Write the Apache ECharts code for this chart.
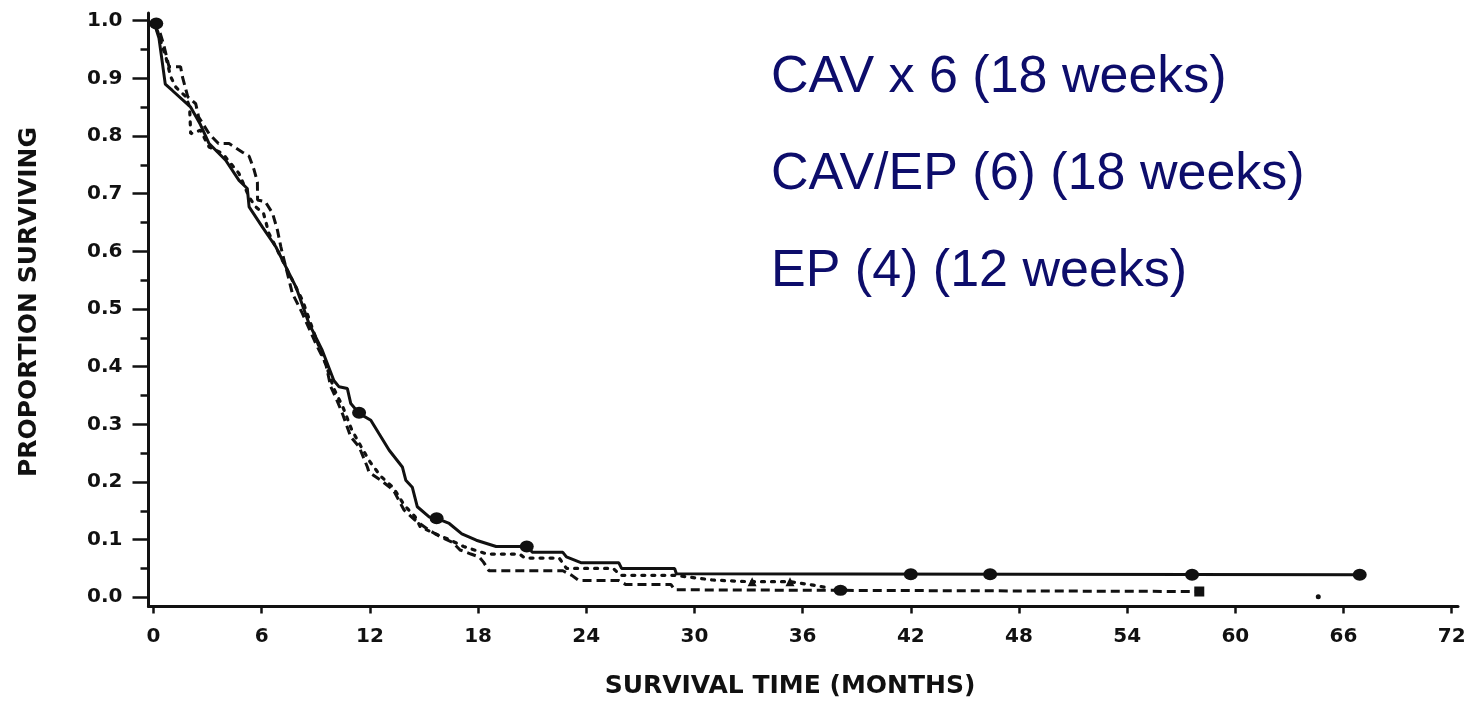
<!DOCTYPE html>
<html>
<head>
<meta charset="utf-8">
<script src="https://cdn.jsdelivr.net/npm/echarts@6/dist/echarts.min.js"></script>
<style>
  html, body { margin: 0; padding: 0; background: #ffffff; }
  #chart { width: 1476px; height: 712px; }
</style>
</head>
<body>
<div id="chart"></div>
<script>
// ---- Data ----
const seriesNames = ['CAV x 6 (18 weeks)', 'CAV/EP (6) (18 weeks)', 'EP (4) (12 weeks)'];

// Solid curve
const timeCAV = [0, 0.3, 0.65, 1.04, 2.06, 2.6, 3.08, 4.0, 4.74, 5.2, 5.3, 6.04, 6.78, 7.34, 7.9, 8.62, 9.36, 10.0, 10.29, 10.75, 10.94, 11.4, 12.05, 12.5, 13.07, 13.8, 13.99, 14.35, 14.63, 15.3, 15.7, 16.4, 17.1, 17.9, 19.0, 20.8, 21.0, 22.7, 22.9, 23.7, 25.8, 25.96, 28.9, 29.0, 66.9];
const survCAV = [1.0, 0.97, 0.89, 0.879, 0.85, 0.82, 0.787, 0.758, 0.723, 0.709, 0.677, 0.642, 0.608, 0.573, 0.538, 0.475, 0.428, 0.376, 0.365, 0.362, 0.336, 0.319, 0.307, 0.284, 0.255, 0.226, 0.203, 0.191, 0.157, 0.139, 0.137, 0.128, 0.110, 0.099, 0.088, 0.088, 0.078, 0.078, 0.070, 0.060, 0.060, 0.050, 0.050, 0.041, 0.039];

// Dotted curve
const timeCAVEP = [0, 0.3, 0.55, 0.7, 0.95, 1.23, 1.8, 2.0, 2.06, 2.6, 3.08, 3.82, 4.74, 5.3, 5.67, 6.1, 6.4, 6.87, 7.52, 8.26, 9.0, 9.6, 10.0, 10.5, 11.0, 11.5, 12.0, 12.6, 13.3, 13.9, 14.5, 14.8, 15.5, 16.4, 17.2, 18.0, 18.5, 20.3, 20.6, 22.5, 22.9, 25.5, 25.9, 28.9, 31.0, 33.0, 35.3, 36.6, 37.5];
const survCAVEP = [1.0, 0.975, 0.95, 0.935, 0.903, 0.885, 0.868, 0.85, 0.804, 0.81, 0.781, 0.770, 0.735, 0.694, 0.677, 0.666, 0.631, 0.602, 0.561, 0.515, 0.45, 0.40, 0.362, 0.33, 0.29, 0.262, 0.235, 0.21, 0.19, 0.16, 0.14, 0.122, 0.112, 0.100, 0.088, 0.080, 0.075, 0.075, 0.068, 0.068, 0.050, 0.050, 0.038, 0.038, 0.030, 0.027, 0.027, 0.021, 0.016];

// Dashed curve
const timeEP = [0, 0.3, 0.55, 0.86, 1.5, 1.6, 1.9, 2.34, 2.5, 3.08, 3.6, 4.19, 4.93, 5.3, 5.58, 5.76, 5.77, 6.2, 6.6, 6.87, 7.06, 7.15, 7.7, 8.26, 9.0, 9.55, 9.83, 10.1, 10.47, 10.94, 11.4, 11.86, 11.95, 12.6, 13.3, 13.9, 14.5, 15.3, 15.9, 16.6, 17.0, 17.6, 18.06, 18.3, 18.6, 22.7, 23.2, 23.6, 25.8, 26.2, 28.7, 28.9, 38.1, 58.0];
const survEP = [1.0, 0.985, 0.96, 0.92, 0.92, 0.903, 0.868, 0.856, 0.833, 0.804, 0.787, 0.787, 0.772, 0.765, 0.741, 0.72, 0.689, 0.686, 0.666, 0.637, 0.608, 0.596, 0.527, 0.492, 0.44, 0.405, 0.365, 0.347, 0.319, 0.278, 0.261, 0.226, 0.217, 0.203, 0.186, 0.151, 0.134, 0.116, 0.105, 0.095, 0.082, 0.075, 0.070, 0.061, 0.046, 0.046, 0.038, 0.029, 0.029, 0.022, 0.022, 0.013, 0.012, 0.010];

// Censoring marks
const censorCAVT = [0.15, 11.4, 15.7, 20.7, 42.0, 46.4, 57.6, 66.9];
const censorCAVS = [0.995, 0.320, 0.137, 0.088, 0.040, 0.040, 0.039, 0.039];
const censorCAVEPT = [33.2, 35.3, 64.6];
const censorCAVEPS = [0.027, 0.027, 0.001];
const censorEPT = [38.1, 58.0];
const censorEPS = [0.012, 0.010];

// Axis ticks
const xTicks = [0, 6, 12, 18, 24, 30, 36, 42, 48, 54, 60, 66, 72];
const yTicks = [0, 0.1, 0.2, 0.3, 0.4, 0.5, 0.6, 0.7, 0.8, 0.9, 1.0];
const yMinorTicks = [0.05, 0.15, 0.25, 0.35, 0.45, 0.55, 0.65, 0.75, 0.85, 0.95];

const xTitle = 'SURVIVAL TIME (MONTHS)';
const yTitle = 'PROPORTION SURVIVING';

// ---- Build ----
const pairs = (t, s) => t.map((v, i) => [v, s[i]]);
const INK = '#111111';
const NAVY = '#0d0d6b';

const chart = echarts.init(document.getElementById('chart'), null, { renderer: 'canvas' });

const yRange = { min: -0.016, max: 1.0134 };

const option = {
  backgroundColor: '#ffffff',
  animation: false,
  grid: { left: 148.5, right: 18, top: 13, bottom: 105.5, containLabel: false },
  xAxis: {
    type: 'value', min: -0.28, max: 72.35,
    axisLine: { show: true, onZero: false, lineStyle: { color: INK, width: 3 } },
    axisTick: { show: true, customValues: xTicks, length: 7, lineStyle: { color: INK, width: 2.5 } },
    axisLabel: { customValues: xTicks, margin: 20, color: INK, fontFamily: 'DejaVu Sans', fontWeight: 'bold', fontSize: 20 },
    splitLine: { show: false }
  },
  yAxis: [
    {
      type: 'value', min: yRange.min, max: yRange.max,
      axisLine: { show: true, onZero: false, lineStyle: { color: INK, width: 3 } },
      axisTick: { show: true, customValues: yTicks, length: 16, lineStyle: { color: INK, width: 2.5 } },
      axisLabel: { customValues: yTicks, margin: 26, color: INK, fontFamily: 'DejaVu Sans', fontWeight: 'bold', fontSize: 20,
        formatter: v => Number(v).toFixed(1) },
      splitLine: { show: false }
    },
    {
      type: 'value', min: yRange.min, max: yRange.max, position: 'left', offset: 0,
      axisLine: { show: false, onZero: false },
      axisTick: { show: true, customValues: yMinorTicks, length: 8, lineStyle: { color: INK, width: 2.5 } },
      axisLabel: { show: false },
      splitLine: { show: false }
    }
  ],
  legend: {
    data: seriesNames,
    orient: 'vertical',
    left: 761, top: 43,
    icon: 'none', itemWidth: 0, itemHeight: 10, itemGap: 37,
    selectedMode: false,
    textStyle: { color: NAVY, fontFamily: 'Liberation Sans', fontSize: 52, lineHeight: 60 }
  },
  graphic: [
    { type: 'text', x: 790, y: 686, silent: true,
      style: { text: xTitle, fill: INK, fontFamily: 'DejaVu Sans', fontWeight: 'bold', fontSize: 25, align: 'center', verticalAlign: 'middle' } },
    { type: 'text', x: 29, y: 302, rotation: Math.PI / 2, silent: true,
      style: { text: yTitle, fill: INK, fontFamily: 'DejaVu Sans', fontWeight: 'bold', fontSize: 25, align: 'center', verticalAlign: 'middle' } }
  ],
  series: [
    { name: seriesNames[0], type: 'line', data: pairs(timeCAV, survCAV), showSymbol: false, symbol: 'none',
      color: INK, lineStyle: { color: INK, width: 3, type: 'solid' }, z: 3 },
    { name: seriesNames[1], type: 'line', data: pairs(timeCAVEP, survCAVEP), showSymbol: false, symbol: 'none',
      color: INK, lineStyle: { color: INK, width: 3.2, type: [3, 7], cap: 'round' }, z: 2 },
    { name: seriesNames[2], type: 'line', data: pairs(timeEP, survEP), showSymbol: false, symbol: 'none',
      color: INK, lineStyle: { color: INK, width: 3, type: [9, 5] }, z: 2 },
    { name: 'censor-CAV', type: 'scatter', data: pairs(censorCAVT, censorCAVS), symbol: 'circle', symbolSize: [14, 12],
      itemStyle: { color: INK, opacity: 1 }, z: 4 },
    { name: 'censor-CAVEP', type: 'scatter', data: pairs(censorCAVEPT, censorCAVEPS),
      symbol: 'triangle', symbolSize: 9,
      itemStyle: { color: INK, opacity: 1 }, z: 4 },
    { name: 'censor-EP', type: 'scatter', data: pairs(censorEPT, censorEPS),
      symbol: 'circle', symbolSize: [14, 11],
      itemStyle: { color: INK, opacity: 1 }, z: 4 }
  ]
};
// last EP censor mark is a square; last CAV/EP mark is a small dot
option.series[5].data[1] = { value: [censorEPT[1], censorEPS[1]], symbol: 'rect', symbolSize: [10, 10] };
option.series[4].data[2] = { value: [censorCAVEPT[2], censorCAVEPS[2]], symbol: 'circle', symbolSize: 5 };

chart.setOption(option);
</script>
</body>
</html>
